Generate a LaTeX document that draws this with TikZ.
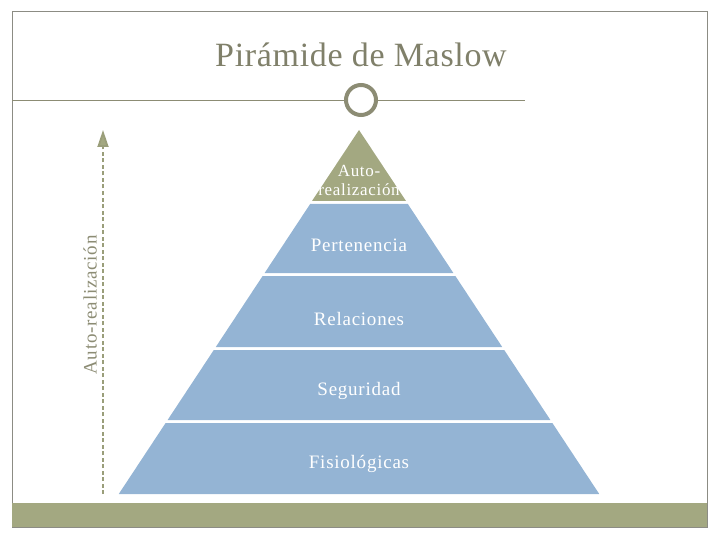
\documentclass[tikz,border=0pt]{standalone}
\usepackage{fontspec}
\setmainfont{Liberation Serif}
\usetikzlibrary{arrows.meta, positioning, calc}
\definecolor{mslOlive}{HTML}{A3A881}
\definecolor{mslGrey}{HTML}{8C8C74}
\definecolor{mslArrow}{HTML}{9A9E7A}
\definecolor{mslTitle}{HTML}{80806A}
\definecolor{mslBlue}{HTML}{94B4D4}
\definecolor{mslFrame}{HTML}{8C8C84}
\tikzset{
    band/.style={fill=mslBlue},
    tipband/.style={fill=mslOlive},
    bandtext/.style={text=white, font=\fontsize{19}{20}\selectfont\addfontfeatures{LetterSpace=4}, align=center},
    ruleline/.style={draw=mslGrey, line width=0.9pt},
    growarrow/.style={draw=mslArrow, line width=1.8pt, dash pattern=on 4pt off 2.5pt, -{Triangle[length=17pt, width=11pt, fill=mslOlive]}}
}

\begin{document}
\begin{tikzpicture}[x=1pt, y=-1pt]
    \useasboundingbox (0,0) rectangle (720,540);
    % frame and bottom bar
    \draw[draw=mslFrame, line width=1pt] (12,12) rectangle (707,527);
    \fill[mslOlive] (12,503) rectangle (707,527);

    % title and ring
    \node[text=mslTitle, font=\fontsize{34}{36}\selectfont\addfontfeatures{LetterSpace=2}] (title) at (361,55) {Pirámide de Maslow};
    \node[circle, draw=mslGrey, line width=4pt, minimum size=30pt, inner sep=0pt] (ring) at (361,100) {};
    \coordinate (ruleL) at (12,100);
    \coordinate (ruleR) at (525,100);
    \draw[ruleline] (ruleL) -- (ring.west);
    \draw[ruleline] (ring.east) -- (ruleR);

    % pyramid
    \fill[tipband] (359,130) -- (406,201) -- (312,201) -- cycle;
    \foreach \ytop/\ybot in {204/273, 276/347, 350/420, 423/494}{
        \pgfmathsetmacro{\wt}{(\ytop-130)*0.66}
        \pgfmathsetmacro{\wb}{(\ybot-130)*0.66}
        \fill[band] (359-\wt,\ytop) -- (359+\wt,\ytop) -- (359+\wb,\ybot) -- (359-\wb,\ybot) -- cycle;
    }
    \node[bandtext, font=\fontsize{17}{19}\selectfont\addfontfeatures{LetterSpace=4}] (self) at (359,180) {Auto-\\realización};
    \node[bandtext] (belong) at (359,245) {Pertenencia};
    \node[bandtext] (social) at (359,319) {Relaciones};
    \node[bandtext] (safety) at (359,391) {Seguridad};
    \node[bandtext] (body) at (359,464) {Fisiológicas};

    % side arrow
    \coordinate (arrowFoot) at (103,494);
    \coordinate (arrowHead) at (103,130);
    \draw[growarrow] (arrowFoot) -- (arrowHead);
    \node[text=mslGrey, font=\fontsize{19}{20}\selectfont\addfontfeatures{LetterSpace=4}, rotate=90] (growlabel) at (90,305) {Auto-realización};
\end{tikzpicture}
\end{document}
